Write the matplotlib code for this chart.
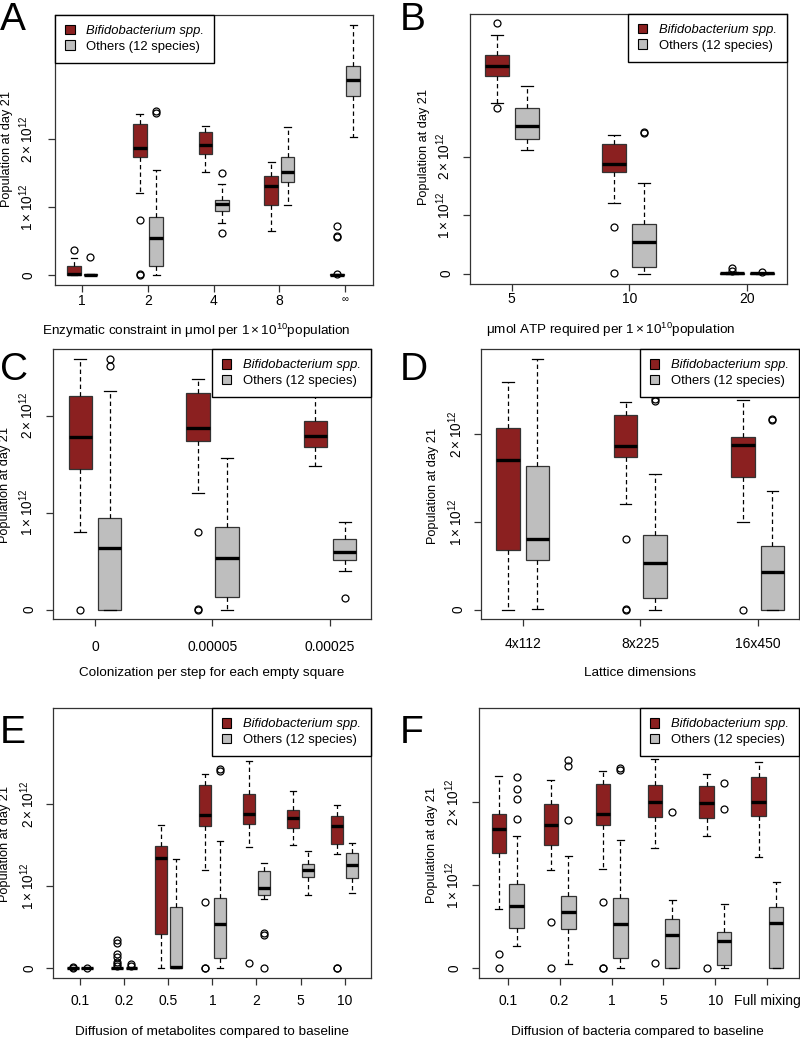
import numpy as np
import matplotlib
matplotlib.use("Agg")
import matplotlib.pyplot as plt
from matplotlib.patches import Patch

plt.rcParams['font.family'] = ['Liberation Sans', 'DejaVu Sans']
plt.rcParams['mathtext.fontset'] = 'custom'
plt.rcParams['mathtext.rm'] = 'Liberation Sans'
plt.rcParams['mathtext.it'] = 'Liberation Sans:italic'
plt.rcParams['mathtext.bf'] = 'Liberation Sans:bold'

# ---------------- data (population values in units of 1e12) ----------------
# each stats row: [whisker low, Q1, median, Q3, whisker high]
A_groups = ['1', '2', '4', '8', '\u221e']
A_bif = [[0, 0.0, 0.01, 0.13, 0.255], [1.204, 1.735, 1.877, 2.23, 2.38],
         [1.523, 1.789, 1.91, 2.103, 2.197], [0.644, 1.027, 1.31, 1.465, 1.666],
         [0, 0, 0.005, 0.01, 0.015]]
A_bif_out = [[0.37], [0.81, 0.01, 0.0], [], [], [0.72, 0.58, 0.555, 0.02]]
A_oth = [[0, 0, 0.005, 0.015, 0.02], [0, 0.128, 0.54, 0.86, 1.553],
         [0.77, 0.94, 1.04, 1.106, 1.346], [1.037, 1.376, 1.518, 1.74, 2.177],
         [2.034, 2.634, 2.87, 3.08, 3.69]]
A_oth_out = [[0.265], [2.42, 2.39], [1.5, 0.62], [], []]

B_groups = ['5', '10', '20']
B_bif = [[2.912, 3.373, 3.556, 3.744, 4.074], [1.202, 1.732, 1.869, 2.222, 2.37],
         [0, 0, 0.005, 0.015, 0.025]]
B_bif_out = [[4.28, 2.838], [0.803, 0.006], [0.1, 0.04]]
B_oth = [[2.108, 2.296, 2.53, 2.838, 3.208], [0, 0.12, 0.536, 0.855, 1.55],
         [0, 0, 0.005, 0.015, 0.02]]
B_oth_out = [[], [2.43, 2.40], [0.025]]

C_groups = ['0', '0.00005', '0.00025']
C_bif = [[0.797, 1.45, 1.78, 2.199, 2.58], [1.203, 1.739, 1.869, 2.234, 2.375],
         [1.478, 1.68, 1.794, 1.942, 2.28]]
C_bif_out = [[0.0], [0.804, 0.01, 0.0], []]
C_oth = [[0, 0, 0.636, 0.942, 2.258], [0, 0.131, 0.536, 0.856, 1.56],
         [0.402, 0.512, 0.598, 0.732, 0.9]]
C_oth_out = [[2.58, 2.515], [], [0.124]]

D_groups = ['4x112', '8x225', '16x450']
D_bif = [[0, 0.677, 1.703, 2.072, 2.60], [1.202, 1.738, 1.863, 2.22, 2.373],
         [1.0, 1.51, 1.875, 1.973, 2.388]]
D_bif_out = [[], [0.802, 0.01, 0.0], [0.0]]
D_oth = [[0.005, 0.57, 0.81, 1.643, 2.856], [0, 0.129, 0.536, 0.856, 1.548],
         [0, 0, 0.426, 0.726, 1.357]]
D_oth_out = [[], [2.40, 2.38], [2.18, 2.16]]

E_groups = ['0.1', '0.2', '0.5', '1', '2', '5', '10']
E_bif = [[0, 0, 0.003, 0.008, 0.012], [0, 0, 0.005, 0.01, 0.02],
         [0, 0.414, 1.347, 1.493, 1.744], [1.2, 1.736, 1.866, 2.227, 2.369],
         [1.481, 1.753, 1.874, 2.118, 2.527], [1.505, 1.708, 1.834, 1.923, 2.154],
         [1.391, 1.513, 1.732, 1.85, 1.984]]
E_bif_out = [[0.015, 0.01], [0.345, 0.31, 0.175, 0.14, 0.08, 0.05, 0.03], [],
             [0.803, 0.01, 0.0], [0.069], [], [0.01, 0.0]]
E_oth = [[0, 0, 0.003, 0.008, 0.012], [0, 0, 0.005, 0.01, 0.015],
         [0, 0, 0.012, 0.746, 1.33], [0, 0.13, 0.535, 0.852, 1.554],
         [0.844, 0.888, 0.978, 1.18, 1.278], [0.892, 1.112, 1.2, 1.27, 1.424],
         [0.913, 1.095, 1.254, 1.408, 1.521]]
E_oth_out = [[0.01], [0.05, 0.03], [], [2.43, 2.40], [0.426, 0.41, 0.0], [], []]

F_groups = ['0.1', '0.2', '1', '5', '10', 'Full mixing']
F_bif = [[0.72, 1.392, 1.68, 1.86, 2.316], [1.18, 1.484, 1.732, 1.98, 2.268],
         [1.196, 1.732, 1.864, 2.22, 2.372], [1.452, 1.82, 2.0, 2.212, 2.52],
         [1.592, 1.812, 1.988, 2.196, 2.34], [1.34, 1.836, 2.004, 2.304, 2.488]]
F_bif_out = [[0.172, 0.0], [0.56, 0.0], [0.8, 0.01, 0.0], [0.068], [0.0], []]
F_oth = [[0.268, 0.492, 0.756, 1.016, 1.596], [0.048, 0.476, 0.676, 0.872, 1.352],
         [0, 0.128, 0.532, 0.852, 1.548], [0, 0, 0.4, 0.596, 0.824],
         [0.008, 0.036, 0.324, 0.44, 0.78], [0, 0, 0.552, 0.74, 1.044]]
F_oth_out = [[2.308, 2.164, 2.04, 1.8], [2.512, 2.44, 1.792], [2.41, 2.39],
             [1.888], [2.228, 1.916], []]

ytick_vals = [0, 1, 2]
ytick_labels = ['0', r'$1\times10^{12}$', r'$2\times10^{12}$']
legend_labels = ['Bifidobacterium spp.', 'Others (12 species)']

RED = '#8B2020'
GRAY = '#BEBEBE'
EDGE = '#333333'

W, H = 800, 1041
fig = plt.figure(figsize=(8, 10.41), dpi=100)


def make_ax(x0, x1, y0, y1):
    return fig.add_axes([x0 / W, 1 - y1 / H, (x1 - x0) / W, (y1 - y0) / H])


def draw_panel(ax, groups, bif, bif_out, oth, oth_out, off, w, xlim, ylim,
               xpad, ypad, legloc, tickfs=10):
    n = len(groups)
    pos = np.arange(1, n + 1)
    for stats, outs, sign, col in [(bif, bif_out, -1, RED), (oth, oth_out, 1, GRAY)]:
        st = [dict(whislo=s[0], q1=s[1], med=s[2], q3=s[3], whishi=s[4],
                   fliers=np.array(o)) for s, o in zip(stats, outs)]
        ax.bxp(st, positions=pos + sign * off, widths=w, patch_artist=True,
               capwidths=w * 0.5, manage_ticks=False,
               boxprops=dict(facecolor=col, edgecolor=EDGE, linewidth=0.9),
               medianprops=dict(color='black', linewidth=2.4, solid_capstyle='butt'),
               whiskerprops=dict(color='black', linewidth=0.9, linestyle=(0, (3.5, 2.5))),
               capprops=dict(color='black', linewidth=0.9),
               flierprops=dict(marker='o', markerfacecolor='none', markeredgecolor='black',
                               markersize=5, markeredgewidth=0.9))
    ax.set_xlim(*xlim)
    ax.set_ylim(*ylim)
    ax.set_xticks(pos)
    ax.set_xticklabels(groups, fontsize=tickfs)
    ax.set_yticks(ytick_vals)
    ax.set_yticklabels(ytick_labels, fontsize=9.8, rotation=90, va='center')
    ax.tick_params(axis='x', direction='out', length=5, width=0.9, pad=xpad, color=EDGE)
    ax.tick_params(axis='y', direction='out', length=5, width=0.9, pad=ypad, color=EDGE)
    for sp in ax.spines.values():
        sp.set_color(EDGE)
        sp.set_linewidth(0.9)
    handles = [Patch(facecolor=RED, edgecolor='black', linewidth=0.8),
               Patch(facecolor=GRAY, edgecolor='black', linewidth=0.8)]
    leg = ax.legend(handles, legend_labels, loc=legloc, borderaxespad=0,
                    fancybox=False, framealpha=1, edgecolor='black', fontsize=9.4,
                    handlelength=0.75, handleheight=0.75, handletextpad=0.9,
                    borderpad=0.75, labelspacing=0.25)
    leg.get_frame().set_linewidth(1.0)
    leg.get_texts()[0].set_fontstyle('italic')
    return ax


# Panel A
axA = make_ax(55, 373, 15, 285)
draw_panel(axA, A_groups, A_bif, A_bif_out, A_oth, A_oth_out, 0.125, 0.21,
           (0.585, 5.426), (-0.147, 3.833), 1.5, 9.0, 'upper left')
axA.get_xticklabels()[-1].set_fontsize(7)
# Panel B
axB = make_ax(470, 787, 14, 284)
draw_panel(axB, B_groups, B_bif, B_bif_out, B_oth, B_oth_out, 0.127, 0.205,
           (0.645, 3.343), (-0.176, 4.439), 0.5, 7.0, 'upper right')
# Panel C
axC = make_ax(53, 371, 349.3, 619.3)
draw_panel(axC, C_groups, C_bif, C_bif_out, C_oth, C_oth_out, 0.125, 0.2,
           (0.643, 3.349), (-0.099, 2.684), 10, 7.0, 'upper right')
# Panel D
axD = make_ax(481, 799, 349.3, 619.3)
draw_panel(axD, D_groups, D_bif, D_bif_out, D_oth, D_oth_out, 0.125, 0.2,
           (0.645, 3.351), (-0.11, 2.97), 7.5, 6.5, 'upper right')
# Panel E
axE = make_ax(53.3, 371, 708.3, 978.3)
draw_panel(axE, E_groups, E_bif, E_bif_out, E_oth, E_oth_out, 0.167, 0.27,
           (0.395, 7.596), (-0.121, 3.165), 6, 7.0, 'upper right')
# Panel F
axF = make_ax(479, 799, 708.3, 978.3)
draw_panel(axF, F_groups, F_bif, F_bif_out, F_oth, F_oth_out, 0.17, 0.275,
           (0.447, 6.61), (-0.12, 3.133), 6, 7.5, 'upper right')

# x labels
xlabels = [
    ('Enzymatic constraint in \u03bcmol per $1\\times10^{10}$population', 196, 331),
    ('\u03bcmol ATP required per $1\\times10^{10}$population', 611, 330),
    ('Colonization per step for each empty square', 212, 673),
    ('Lattice dimensions', 640, 673),
    ('Diffusion of metabolites compared to baseline', 212, 1032),
    ('Diffusion of bacteria compared to baseline', 637, 1032),
]
for txt, x, y in xlabels:
    fig.text(x / W, 1 - y / H, txt, ha='center', va='center', fontsize=9.7)

# y labels
ylab_pos = [(7, 149), (424, 147), (5, 485), (433, 486), (5, 844), (432, 845)]
for x, y in ylab_pos:
    fig.text(x / W, 1 - y / H, 'Population at day 21', ha='center', va='center',
             rotation=90, fontsize=9.2)

# panel letters
letters = [('A', 0, 30), ('B', 400, 30), ('C', 0, 380), ('D', 400, 380),
           ('E', 0, 743), ('F', 400, 743)]
for L, x, y in letters:
    fig.text(x / W, 1 - y / H, L, ha='left', va='baseline', fontsize=28)

fig.savefig('out.png', dpi=100)
